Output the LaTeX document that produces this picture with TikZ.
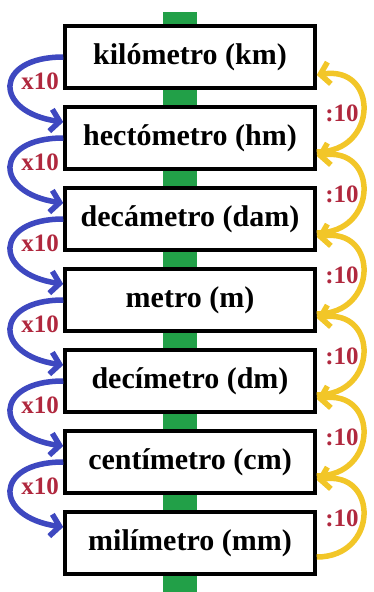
\documentclass[tikz,border=0pt]{standalone}
\usepackage{fontspec}
\setmainfont{Liberation Serif}
\usetikzlibrary{arrows.meta}

\definecolor{barGreen}{RGB}{34,160,72}
\definecolor{downBlue}{RGB}{62,72,192}
\definecolor{upYellow}{RGB}{242,198,40}
\definecolor{factorRed}{RGB}{176,40,62}

\begin{document}
\begin{tikzpicture}[x=1pt, y=1pt,
    unit/.style={draw, line width=3.5pt, fill=white, minimum width=250pt, minimum height=62pt,
                 inner sep=0pt, font=\bfseries\fontsize{30}{36}\selectfont},
    down/.style={downBlue, line width=5.5pt, -{Straight Barb[length=9pt, width=22pt]}},
    up/.style={upYellow, line width=5.5pt, -{Straight Barb[length=9pt, width=22pt]}},
    factor/.style={factorRed, inner sep=0pt, font=\bfseries\fontsize{25}{28}\selectfont}]
    \useasboundingbox (0,0) rectangle (373,-592);

    % Green bar behind the boxes
    \fill[barGreen] (163,-12) rectangle (197,-592);

    % Nodes
    \node[unit] (km)  at (190,-57)  {kilómetro (km)};
    \node[unit] (hm)  at (190,-138) {hectómetro (hm)};
    \node[unit] (dam) at (190,-219) {decámetro (dam)};
    \node[unit] (m)   at (190,-300) {metro (m)};
    \node[unit] (dm)  at (190,-381) {decímetro (dm)};
    \node[unit] (cm)  at (190,-462) {centímetro (cm)};
    \node[unit] (mm)  at (190,-543) {milímetro (mm)};

    % Multiply arrows (left side)
    \draw[down] (km.west)  .. controls +(-70,0) and +(-70,10) .. ([yshift=16pt]hm.west);
    \draw[down] (hm.west)  .. controls +(-70,0) and +(-70,10) .. ([yshift=16pt]dam.west);
    \draw[down] (dam.west) .. controls +(-70,0) and +(-70,10) .. ([yshift=16pt]m.west);
    \draw[down] (m.west)   .. controls +(-70,0) and +(-70,10) .. ([yshift=16pt]dm.west);
    \draw[down] (dm.west)  .. controls +(-70,0) and +(-70,10) .. ([yshift=16pt]cm.west);
    \draw[down] (cm.west)  .. controls +(-70,0) and +(-70,10) .. ([yshift=16pt]mm.west);

    % Divide arrows (right side)
    \draw[up] ([yshift=-14pt]hm.east)  .. controls +(62,0) and +(62,10) .. ([yshift=-18pt]km.east);
    \draw[up] ([yshift=-14pt]dam.east) .. controls +(62,0) and +(62,10) .. ([yshift=-18pt]hm.east);
    \draw[up] ([yshift=-14pt]m.east)   .. controls +(62,0) and +(62,10) .. ([yshift=-18pt]dam.east);
    \draw[up] ([yshift=-14pt]dm.east)  .. controls +(62,0) and +(62,10) .. ([yshift=-18pt]m.east);
    \draw[up] ([yshift=-14pt]cm.east)  .. controls +(62,0) and +(62,10) .. ([yshift=-18pt]dm.east);
    \draw[up] ([yshift=-14pt]mm.east)  .. controls +(62,0) and +(62,10) .. ([yshift=-18pt]cm.east);

    % Factors
    \node[factor] (x1) at (40,-81)  {x10};
    \node[factor] (x2) at (40,-162) {x10};
    \node[factor] (x3) at (40,-243) {x10};
    \node[factor] (x4) at (40,-324) {x10};
    \node[factor] (x5) at (40,-405) {x10};
    \node[factor] (x6) at (40,-486) {x10};
    \node[factor] (d1) at (342,-113) {:10};
    \node[factor] (d2) at (342,-194) {:10};
    \node[factor] (d3) at (342,-275) {:10};
    \node[factor] (d4) at (342,-356) {:10};
    \node[factor] (d5) at (342,-437) {:10};
    \node[factor] (d6) at (342,-518) {:10};
\end{tikzpicture}
\end{document}
